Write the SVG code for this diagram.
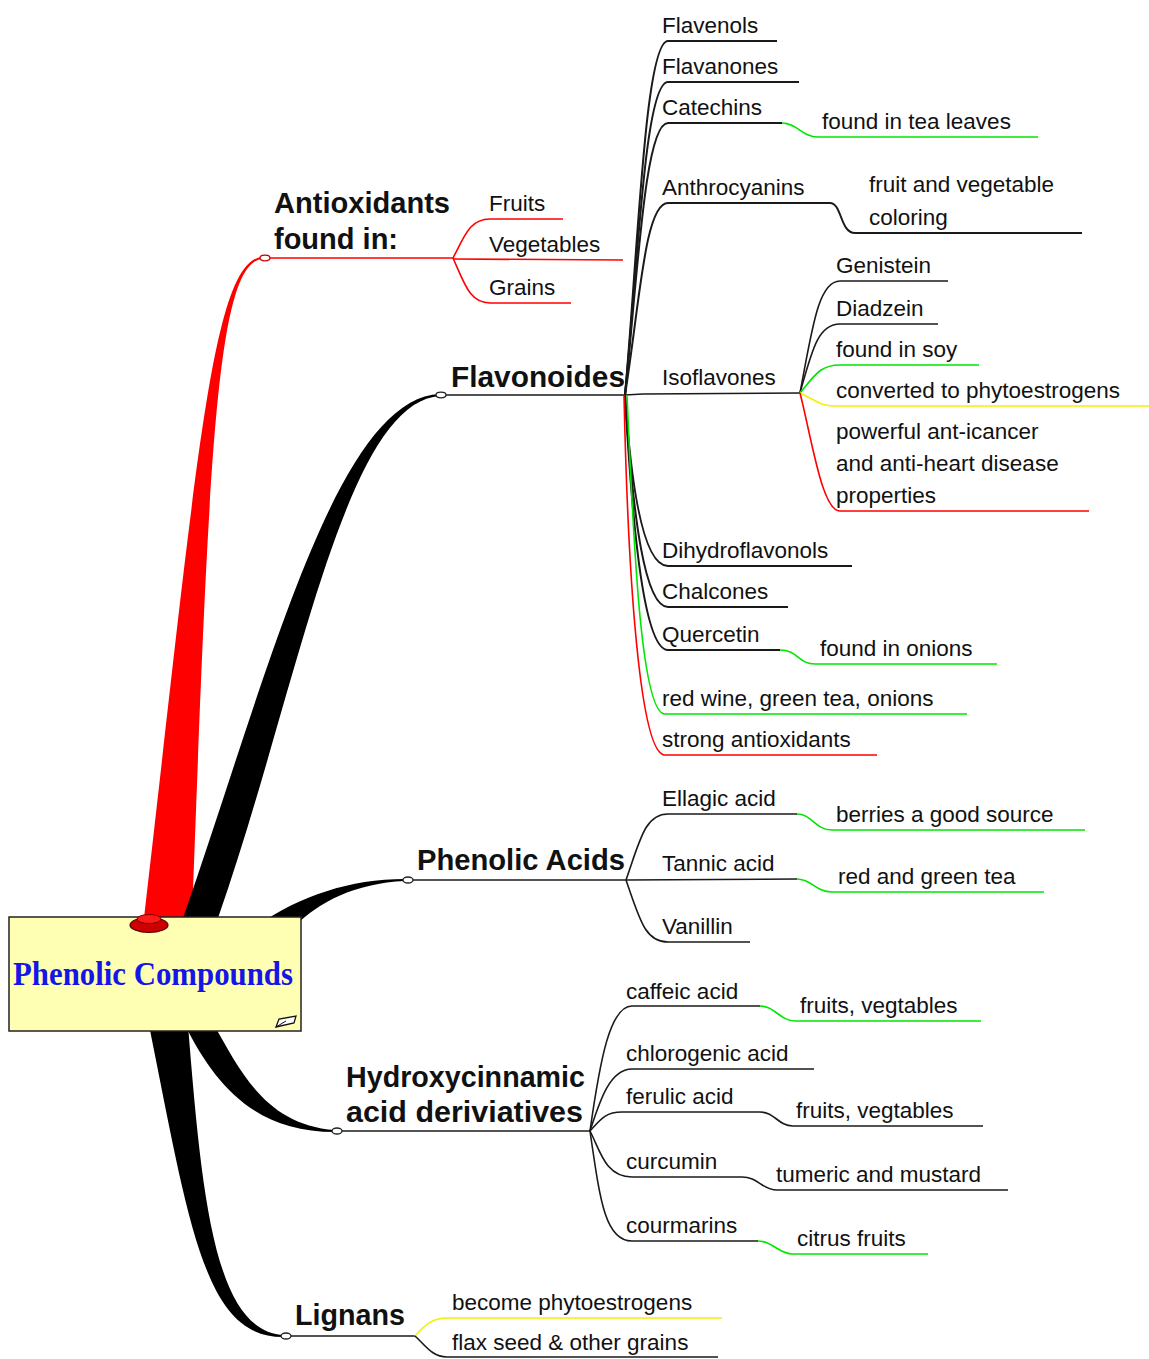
<svg xmlns="http://www.w3.org/2000/svg" width="1149" height="1359" viewBox="0 0 1149 1359">
<style>
.t{font-family:"Liberation Sans",Arial,sans-serif;font-size:22.5px;fill:#111}
.b{font-family:"Liberation Sans",Arial,sans-serif;font-size:29px;font-weight:bold;fill:#111}
.k{fill:none;stroke:#1a1a1a;stroke-width:1.6}
.g{fill:none;stroke:#00e600;stroke-width:1.6}
.y{fill:none;stroke:#f2f200;stroke-width:1.6}
.r{fill:none;stroke:#ff0000;stroke-width:1.6}
.dot{fill:#fff;stroke:#222;stroke-width:1.3}
</style>
<rect width="1149" height="1359" fill="#fff"/>
<g id="connectors">
  <!-- main tapered branches -->
  <path d="M144,918 C197,460 212,262 262,257 L262,259 C216,264 209,460 192,918 Z" fill="#ff0000"/>
  <path d="M183,918 C268,675 336,398 440,394 L440,396 C344,402 298,690 218,918 Z" fill="#000"/>
  <path d="M258,925 C300,896 350,879 405,879 L405,881 C355,883 318,903 296,925 Z" fill="#000"/>
  <path d="M214,1025 C240,1070 265,1125 335,1130 L335,1132 C255,1132 215,1085 185,1025 Z" fill="#000"/>
  <path d="M149,1025 C190,1230 205,1338 284,1337 L284,1335 C215,1332 202,1200 188,1025 Z" fill="#000"/>
  <!-- Antioxidants -->
  <path class="r" d="M262,258 L453,258"/>
  <path class="r" d="M453,258 C465,235 470,219 490,219 L563,219"/>
  <path class="r" d="M453,259 L623,260"/>
  <path class="r" d="M453,258 C465,285 470,303 490,303 L571,303"/>
  <ellipse class="dot" cx="265" cy="258" rx="5" ry="2.8" style="stroke:#c00"/>
  <!-- Flavonoides -->
  <path class="k" d="M440,395 L625,395 L643,394 L800,393"/>
  <path class="k" d="M625,395 C638,250 645,41 668,41 L777,41" style="stroke-width:2"/>
  <path class="k" d="M625,395 C638,260 645,82 668,82 L799,82" style="stroke-width:2"/>
  <path class="k" d="M625,395 C638,270 645,123 668,123 L782,123" style="stroke-width:2"/>
  <path class="g" d="M782,123 C797,123 802,137 818,137 L1038,137"/>
  <path class="k" d="M625,395 C640,300 645,203 668,203 L830,203 C842,203 840,233 855,233 L1082,233" style="stroke-width:2"/>
  <path class="k" d="M800,393 C812,330 818,281 840,281 L948,281"/>
  <path class="k" d="M800,393 C812,350 818,324 840,324 L938,324"/>
  <path class="g" d="M800,393 C815,375 820,365 840,365 L979,365"/>
  <path class="y" d="M800,393 C815,400 820,406 835,406 L1149,406"/>
  <path class="r" d="M800,393 C812,440 822,511 840,511 L1089,511"/>
  <path class="k" d="M625,395 C632,500 645,566 668,566 L852,566" style="stroke-width:2"/>
  <path class="k" d="M625,395 C633,520 645,607 668,607 L788,607" style="stroke-width:2"/>
  <path class="k" d="M625,395 C633,540 645,650 668,650 L780,650" style="stroke-width:2"/>
  <path class="g" d="M780,650 C798,650 798,664 815,664 L997,664"/>
  <path class="g" d="M627,395 C634,560 642,714 665,714 L967,714"/>
  <path class="r" d="M624,395 C628,580 640,755 665,755 L877,755"/>
  <ellipse class="dot" cx="441" cy="395" rx="5" ry="2.8"/>
  <!-- Phenolic Acids -->
  <path class="k" d="M405,880 L626,880"/>
  <path class="k" d="M626,880 C640,840 645,814 668,814 L797,814"/>
  <path class="g" d="M797,814 C812,814 815,830 832,830 L1085,830"/>
  <path class="k" d="M626,880 L797,879"/>
  <path class="g" d="M797,879 C812,879 815,892 832,892 L1044,892"/>
  <path class="k" d="M626,880 C640,920 645,942 668,942 L750,942"/>
  <ellipse class="dot" cx="408" cy="880" rx="5" ry="3"/>
  <!-- Hydroxycinnamic -->
  <path class="k" d="M335,1131 L590,1131"/>
  <path class="k" d="M590,1131 C600,1060 610,1006 632,1006 L760,1006"/>
  <path class="g" d="M760,1006 C775,1006 780,1021 795,1021 L981,1021"/>
  <path class="k" d="M590,1131 C600,1100 610,1069 632,1069 L814,1069"/>
  <path class="k" d="M590,1131 C600,1120 605,1112 622,1112 L760,1112 C775,1112 778,1126 793,1126 L983,1126"/>
  <path class="k" d="M590,1131 C600,1150 605,1177 632,1177 L742,1177 C758,1177 762,1190 777,1190 L1008,1190"/>
  <path class="k" d="M590,1131 C600,1200 605,1241 632,1241 L758,1241"/>
  <path class="g" d="M758,1241 C773,1241 778,1254 793,1254 L928,1254"/>
  <ellipse class="dot" cx="337" cy="1131" rx="5" ry="3"/>
  <!-- Lignans -->
  <path class="k" d="M284,1336 L415,1336"/>
  <path class="y" d="M415,1336 C425,1325 432,1318 447,1318 L722,1318"/>
  <path class="k" d="M415,1336 C425,1345 432,1357 447,1357 L718,1357"/>
  <ellipse class="dot" cx="286" cy="1336" rx="5" ry="3"/>
</g>
<g id="root">
  <rect x="9" y="917" width="292" height="114" fill="#ffffb3" stroke="#222" stroke-width="1.5"/>
  <ellipse cx="149" cy="925" rx="19" ry="7.5" fill="#cc0000" stroke="#5a0000" stroke-width="1.2"/>
  <ellipse cx="149" cy="919" rx="12" ry="4.5" fill="#ff1a1a" stroke="#7a0000" stroke-width="1"/>
  <path d="M276,1027 L279,1019 L296,1016 L294,1023 Z" fill="#fff" stroke="#111" stroke-width="1.3"/>
  <path d="M276,1027 L286,1021" stroke="#111" stroke-width="1" fill="none"/>
  <text x="13" y="985" font-family="'Liberation Serif','Times New Roman',serif" font-size="33" font-weight="bold" fill="#1515e8" textLength="280" lengthAdjust="spacingAndGlyphs">Phenolic Compounds</text>
</g>
<g id="antioxidants">
  <text class="b" x="274" y="213" textLength="176" lengthAdjust="spacingAndGlyphs">Antioxidants</text>
  <text class="b" x="274" y="249">found in:</text>
  <text class="t" x="489" y="211">Fruits</text>
  <text class="t" x="489" y="252">Vegetables</text>
  <text class="t" x="489" y="295">Grains</text>
</g>
<g id="flavonoides">
  <text class="b" x="451" y="387" textLength="174" lengthAdjust="spacingAndGlyphs">Flavonoides</text>
  <text class="t" x="662" y="33">Flavenols</text>
  <text class="t" x="662" y="74">Flavanones</text>
  <text class="t" x="662" y="115">Catechins</text>
  <text class="t" x="822" y="129">found in tea leaves</text>
  <text class="t" x="662" y="195">Anthrocyanins</text>
  <text class="t" x="869" y="192">fruit and vegetable</text>
  <text class="t" x="869" y="225">coloring</text>
  <text class="t" x="662" y="385">Isoflavones</text>
  <text class="t" x="836" y="273">Genistein</text>
  <text class="t" x="836" y="316">Diadzein</text>
  <text class="t" x="836" y="357">found in soy</text>
  <text class="t" x="836" y="398">converted to phytoestrogens</text>
  <text class="t" x="836" y="439">powerful ant-icancer</text>
  <text class="t" x="836" y="471">and anti-heart disease</text>
  <text class="t" x="836" y="503">properties</text>
  <text class="t" x="662" y="558">Dihydroflavonols</text>
  <text class="t" x="662" y="599">Chalcones</text>
  <text class="t" x="662" y="642">Quercetin</text>
  <text class="t" x="820" y="656">found in onions</text>
  <text class="t" x="662" y="706">red wine, green tea, onions</text>
  <text class="t" x="662" y="747">strong antioxidants</text>
</g>
<g id="phenolic-acids">
  <text class="b" x="417" y="870" textLength="208" lengthAdjust="spacingAndGlyphs">Phenolic Acids</text>
  <text class="t" x="662" y="806">Ellagic acid</text>
  <text class="t" x="836" y="822">berries a good source</text>
  <text class="t" x="662" y="871">Tannic acid</text>
  <text class="t" x="838" y="884">red and green tea</text>
  <text class="t" x="662" y="934">Vanillin</text>
</g>
<g id="hydroxycinnamic">
  <text class="b" x="346" y="1087" textLength="239" lengthAdjust="spacingAndGlyphs">Hydroxycinnamic</text>
  <text class="b" x="346" y="1122" textLength="237" lengthAdjust="spacingAndGlyphs">acid deriviatives</text>
  <text class="t" x="626" y="999">caffeic acid</text>
  <text class="t" x="800" y="1013">fruits, vegtables</text>
  <text class="t" x="626" y="1061">chlorogenic acid</text>
  <text class="t" x="626" y="1104">ferulic acid</text>
  <text class="t" x="796" y="1118">fruits, vegtables</text>
  <text class="t" x="626" y="1169">curcumin</text>
  <text class="t" x="776" y="1182">tumeric and mustard</text>
  <text class="t" x="626" y="1233">courmarins</text>
  <text class="t" x="797" y="1246">citrus fruits</text>
</g>
<g id="lignans">
  <text class="b" x="295" y="1325" textLength="110" lengthAdjust="spacingAndGlyphs">Lignans</text>
  <text class="t" x="452" y="1310">become phytoestrogens</text>
  <text class="t" x="452" y="1350">flax seed &amp; other grains</text>
</g>
</svg>
